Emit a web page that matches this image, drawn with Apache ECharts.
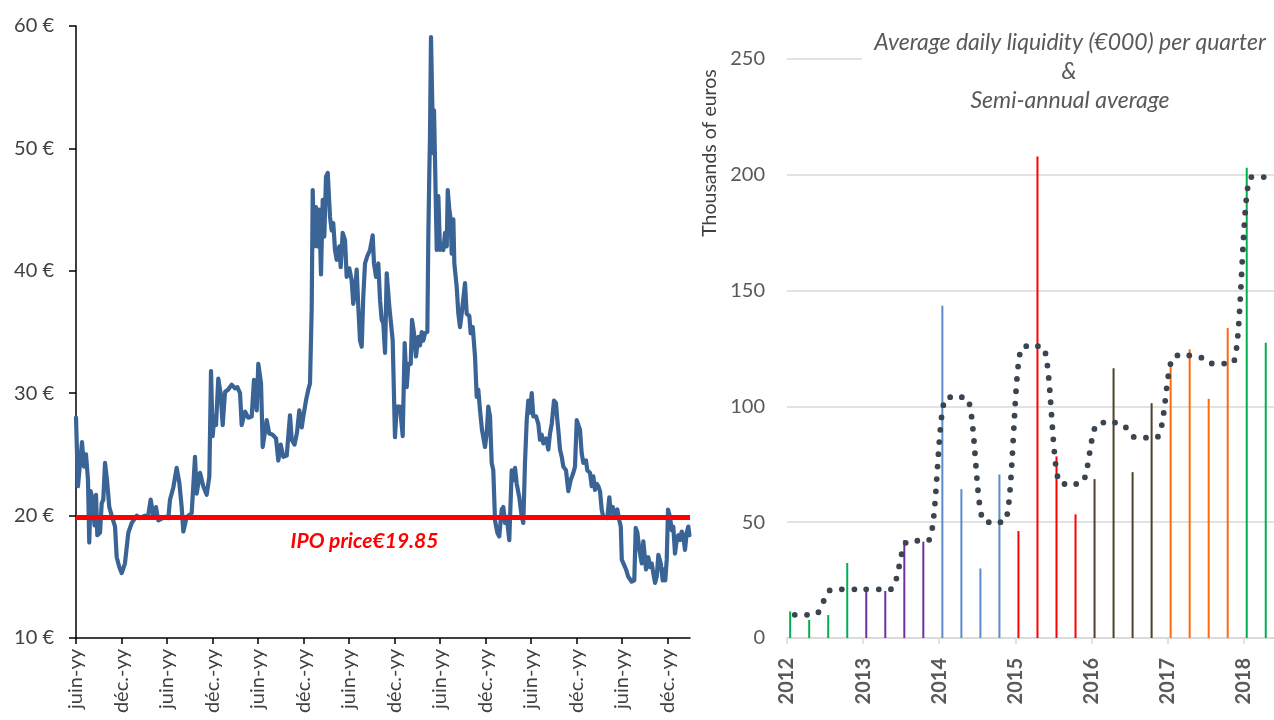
<!DOCTYPE html>
<html>
<head>
<meta charset="utf-8">
<script src="https://cdn.jsdelivr.net/npm/echarts@6/dist/echarts.min.js"></script>
<style>
html,body{margin:0;padding:0;background:#fff;}
#chart{width:1274px;height:720px;}
</style>
</head>
<body>
<div id="chart"></div>
<script>
// ---- Share price (left panel) ----
// time in months counted from the first June tick, price in euros
const priceMonth = [
  0, 0.26, 0.79, 1.06, 1.32, 1.58, 1.75, 1.94, 2.20, 2.44, 2.64, 2.81, 3.17, 3.39, 3.60, 3.83, 4.09, 4.39, 4.71, 5.15,
  5.37, 5.71, 6.03, 6.46, 6.90, 7.35, 8.01, 8.44, 9.10, 9.50, 9.85, 10.20, 10.55, 10.86, 11.74, 12.18, 12.40, 12.84, 13.28, 13.63,
  13.94, 14.16, 14.60, 15.26, 15.70, 15.92, 16.36, 16.79, 17.24, 17.59, 17.81, 18.03, 18.25, 18.47, 18.77, 19.09, 19.35, 19.66, 20.09, 20.54,
  20.98, 21.28, 21.64, 21.86, 22.30, 22.73, 23.18, 23.48, 23.84, 24.05, 24.41, 24.63, 25.16, 25.50, 25.95, 26.39, 26.69, 27.01, 27.35, 27.80,
  28.23, 28.46, 28.83, 29.16, 29.46, 29.78, 29.99, 30.34, 30.65, 30.87, 31.09, 31.23, 31.40, 31.66, 31.83, 32.10, 32.32, 32.55, 32.76, 32.98,
  33.21, 33.51, 33.73, 33.94, 34.17, 34.39, 34.74, 34.92, 35.18, 35.49, 35.71, 36.06, 36.37, 36.58, 36.81, 37.03, 37.24, 37.47, 37.69, 37.90,
  38.13, 38.43, 38.79, 39.14, 39.31, 39.58, 39.88, 40.11, 40.33, 40.54, 40.77, 40.99, 41.33, 41.78, 42.08, 42.31, 42.74, 43.10, 43.36, 43.63,
  43.84, 44.16, 44.33, 44.59, 44.85, 45.16, 45.38, 45.61, 45.82, 46.04, 46.35, 46.48, 46.61, 46.70, 46.83, 47.01, 47.14, 47.23, 47.36, 47.49,
  47.59, 47.80, 48.02, 48.25, 48.46, 48.68, 48.91, 49.04, 49.25, 49.43, 49.56, 49.78, 49.91, 50.22, 50.44, 50.66, 50.88, 51.10, 51.32, 51.54,
  51.89, 52.07, 52.34, 52.64, 52.86, 53.07, 53.30, 53.56, 53.96, 54.18, 54.39, 54.62, 54.84, 55.05, 55.28, 55.58, 55.84, 56.16, 56.37, 56.60,
  56.82, 57.16, 57.48, 57.70, 57.92, 58.14, 58.48, 58.80, 59.01, 59.23, 59.46, 59.67, 59.89, 60.12, 60.33, 60.69, 60.99, 61.21, 61.44, 61.65,
  62.01, 62.31, 62.53, 62.76, 63.06, 63.32, 63.50, 63.63, 63.85, 64.08, 64.29, 64.64, 64.95, 65.26, 65.61, 65.83, 66.06, 66.27, 66.49, 66.71,
  66.93, 67.28, 67.45, 67.81, 68.03, 68.25, 68.47, 68.69, 68.91, 69.13, 69.35, 69.56, 69.79, 70.09, 70.36, 70.54, 70.81, 71.11, 71.41, 71.68,
  71.87, 72.00, 72.22, 72.56, 72.86, 73.31, 73.65, 73.84, 74.06, 74.32, 74.63, 74.84, 75.07, 75.20, 75.50, 75.73, 75.95, 76.16, 76.39, 76.61,
  76.83, 77.14, 77.40, 77.57, 77.74, 77.93, 78.10, 78.36, 78.59, 78.80, 79.02, 79.25, 79.46, 79.68, 79.91, 80.12, 80.34, 80.57, 80.78, 80.92
];
const priceValue = [
  28.0, 22.4, 26.0, 24.0, 25.0, 22.9, 17.8, 22.0, 21.3, 19.2, 21.7, 18.4, 18.6, 21.0, 21.3, 24.3, 22.9, 20.7, 20.0, 19.1,
  16.6, 15.8, 15.3, 16.1, 18.6, 19.4, 20.0, 19.8, 20.0, 19.9, 21.3, 20.0, 20.7, 19.6, 19.9, 19.8, 21.3, 22.3, 23.9, 22.7,
  20.7, 18.7, 19.9, 20.2, 24.8, 21.8, 23.5, 22.4, 21.7, 23.2, 31.8, 26.5, 28.1, 27.4, 31.2, 29.9, 27.4, 30.1, 30.3, 30.7,
  30.4, 30.5, 30.0, 27.4, 28.5, 28.0, 28.1, 31.1, 28.6, 32.4, 30.8, 25.6, 27.8, 26.7, 26.6, 26.3, 24.5, 25.8, 24.8, 24.9,
  28.2, 26.2, 25.8, 26.8, 28.6, 27.2, 28.1, 29.4, 30.3, 30.8, 36.8, 46.6, 42.0, 45.2, 42.0, 45.0, 39.7, 45.8, 42.8, 47.7,
  48.0, 44.4, 43.3, 43.9, 41.7, 40.9, 42.0, 40.3, 43.1, 42.5, 39.5, 40.2, 39.2, 37.3, 38.4, 40.1, 37.1, 34.3, 33.8, 37.9,
  40.6, 41.2, 41.7, 42.9, 40.6, 39.5, 40.6, 37.6, 36.0, 35.7, 33.3, 39.8, 37.1, 34.3, 26.4, 28.9, 28.9, 26.5, 34.1, 30.5,
  32.4, 32.4, 36.0, 34.9, 33.0, 34.6, 33.9, 35.0, 34.3, 34.9, 35.0, 42.8, 48.0, 51.0, 59.1, 53.4, 49.6, 53.1, 49.1, 44.7,
  41.7, 46.1, 41.7, 42.2, 41.7, 43.1, 42.0, 46.6, 45.0, 44.2, 41.4, 44.2, 40.6, 38.7, 36.5, 35.4, 36.5, 36.5, 39.0, 36.5,
  36.3, 34.9, 35.4, 33.0, 29.7, 30.3, 28.6, 27.0, 25.6, 26.7, 28.9, 28.1, 24.3, 23.7, 19.6, 18.6, 18.3, 20.5, 20.7, 19.4,
  19.9, 18.0, 23.7, 22.9, 23.9, 22.6, 21.5, 19.9, 19.4, 24.3, 27.8, 29.4, 28.4, 30.0, 28.1, 28.1, 27.5, 26.2, 26.6, 25.9,
  26.3, 25.4, 26.7, 27.5, 29.4, 29.2, 27.8, 27.0, 25.4, 24.8, 24.0, 23.7, 22.0, 22.9, 23.5, 24.0, 27.8, 27.7, 27.0, 25.1,
  24.3, 24.5, 23.7, 23.5, 22.4, 23.2, 22.1, 22.6, 22.4, 22.0, 20.5, 19.9, 19.9, 19.8, 21.5, 20.2, 20.7, 19.9, 20.5, 19.6,
  19.1, 16.4, 16.1, 15.6, 15.0, 14.6, 14.7, 19.0, 18.6, 17.2, 16.1, 17.9, 18.0, 15.6, 16.6, 15.8, 16.1, 15.3, 14.5, 15.0,
  16.8, 16.1, 14.7, 15.6, 14.7, 16.4, 20.5, 19.9, 18.8, 19.1, 16.9, 18.0, 18.4, 18.0, 18.7, 18.3, 17.2, 18.6, 19.1, 18.4
];
const ipoPrice = 19.85;
const priceTickLabels = [
  'juin-yy', 'déc.-yy', 'juin-yy', 'déc.-yy', 'juin-yy', 'déc.-yy', 'juin-yy',
  'déc.-yy', 'juin-yy', 'déc.-yy', 'juin-yy', 'déc.-yy', 'juin-yy', 'déc.-yy'
];
const monthsShown = 81;      // span of the time axis, in months
const monthsPerTick = 6;

// ---- Liquidity (right panel) ----
const years = [2012, 2013, 2014, 2015, 2016, 2017, 2018];
const quarters = [
  'T1 2012', 'T2 2012', 'T3 2012', 'T4 2012', 'T1 2013', 'T2 2013', 'T3 2013', 'T4 2013',
  'T1 2014', 'T2 2014', 'T3 2014', 'T4 2014', 'T1 2015', 'T2 2015', 'T3 2015', 'T4 2015',
  'T1 2016', 'T2 2016', 'T3 2016', 'T4 2016', 'T1 2017', 'T2 2017', 'T3 2017', 'T4 2017',
  'T1 2018', 'T2 2018'
];
// average daily liquidity per quarter, thousands of euros
const liquidity = [
  11.5, 7.8, 9.9, 32.4, 21.5, 20.3, 42.3, 41.6,
  143.5, 64.3, 30.0, 70.6, 46.2, 207.9, 78.4, 53.4,
  68.6, 116.5, 71.6, 101.4, 119.4, 124.7, 103.3, 133.8,
  203.0, 127.5
];
// semi-annual average, one value per half-year
const semiAnnual = [10, 21, 21, 42, 104, 50, 126, 66.5, 93, 86.5, 122, 118.5, 199];
const yearColors = {
  2012: '#00b050', 2013: '#7030a0', 2014: '#5a8bcb', 2015: '#ff0000',
  2016: '#4d4128', 2017: '#ff6a0d', 2018: '#00b050'
};

// position of each quarter on the year axis: middle of the quarter's first month
function quarterPos(label) {
  const q = +label.slice(1, 2);
  const y = +label.slice(3);
  return y + (3 * (q - 1) + 0.5) / 12;
}
// the average curve is plotted a few days after the bars
const AVG_SHIFT = 0.06;

const monthCategories = [];
for (let i = 0; i <= monthsShown; i++) {
  monthCategories.push(i % monthsPerTick === 0 ? (priceTickLabels[i / monthsPerTick] || '') : '');
}

const priceData = priceMonth.map((m, i) => [m, priceValue[i]]);
const barData = quarters.map((q, i) => {
  const y = +q.slice(3);
  return { value: [quarterPos(q), liquidity[i]], itemStyle: { color: yearColors[y] } };
});
const avgData = quarters.map((q, i) => [quarterPos(q) + AVG_SHIFT, semiAnnual[Math.floor(i / 2)]]);

const FONT = 'Lato, "Open Sans", sans-serif';

const chart = echarts.init(document.getElementById('chart'), null, { renderer: 'canvas' });
chart.setOption({
  backgroundColor: '#ffffff',
  animation: false,
  textStyle: { fontFamily: FONT },
  grid: [
    { left: 76, top: 26, width: 614, bottom: 82, containLabel: false },
    { left: 787, top: 59, right: 0, bottom: 82, containLabel: false }
  ],
  xAxis: [
    {
      type: 'category', gridIndex: 0, data: monthCategories, boundaryGap: false,
      axisLine: { lineStyle: { color: '#000', width: 1.5 } },
      axisTick: { show: true, interval: monthsPerTick - 1, length: 6, lineStyle: { color: '#000', width: 1.5 } },
      axisLabel: {
        interval: monthsPerTick - 1, rotate: 90, margin: 11, fontSize: 20,
        color: '#404040', fontFamily: FONT
      },
      splitLine: { show: false }
    },
    {
      type: 'value', gridIndex: 0, min: 0, max: monthsShown, show: false
    },
    {
      type: 'value', gridIndex: 1, min: years[0], max: 2018.4, interval: 1,
      axisLine: { lineStyle: { color: '#d9d9d9', width: 1.5 } },
      axisTick: { show: true, length: 6, lineStyle: { color: '#d9d9d9', width: 1.5 } },
      axisLabel: {
        rotate: 90, margin: 20, fontSize: 20, fontWeight: 'bold', color: '#595959',
        fontFamily: FONT, showMaxLabel: false,
        formatter: v => (Number.isInteger(v) && years.includes(v)) ? String(v) : ''
      },
      splitLine: { show: false }
    }
  ],
  yAxis: [
    {
      type: 'value', gridIndex: 0, min: 10, max: 60, interval: 10,
      axisLine: { show: true, lineStyle: { color: '#000', width: 1.5 } },
      axisTick: { show: true, length: 7, lineStyle: { color: '#000', width: 1.5 } },
      axisLabel: { formatter: '{value} €', fontSize: 20, color: '#404040', margin: 22, fontFamily: FONT },
      splitLine: { show: false }
    },
    {
      type: 'value', gridIndex: 1, min: 0, max: 250, interval: 50,
      axisLine: { show: false }, axisTick: { show: false },
      axisLabel: { fontSize: 20, color: '#595959', margin: 22, fontFamily: FONT },
      splitLine: { show: true, lineStyle: { color: '#d9d9d9', width: 1.5 } }
    }
  ],
  series: [
    {
      name: 'Price', type: 'line', xAxisIndex: 1, yAxisIndex: 0,
      data: priceData, symbol: 'none', z: 2,
      lineStyle: { color: '#3b6496', width: 4.2, join: 'round', cap: 'round' },
      markLine: {
        silent: true, symbol: 'none', z: 5,
        lineStyle: { color: '#ff0000', width: 5, type: 'solid' },
        label: {
          show: true, position: 'insideMiddleBottom', distance: 13,
          formatter: p => 'IPO price€' + p.value.toFixed(2),
          color: '#ff0000', fontSize: 21, fontWeight: 'bold', fontStyle: 'italic',
          fontFamily: FONT, padding: [0, 37, 0, 0]
        },
        emphasis: { disabled: true },
        data: [{ yAxis: ipoPrice }]
      }
    },
    {
      name: 'Liquidity', type: 'bar', xAxisIndex: 2, yAxisIndex: 1,
      data: barData, barWidth: 2, z: 2
    },
    {
      name: 'Semi-annual average', type: 'line', xAxisIndex: 2, yAxisIndex: 1,
      data: avgData, symbol: 'none', smooth: 0.5, smoothMonotone: 'x', z: 3,
      lineStyle: { color: '#3a4550', width: 5.8, type: [0, 12.3], cap: 'round' }
    }
  ],
  graphic: [
    {
      type: 'rect', z: 100, shape: { x: 862, y: 50, width: 412, height: 18 },
      style: { fill: '#ffffff' }
    },
    {
      type: 'text', z: 101, x: 1070, y: 43,
      style: { text: 'Average daily liquidity (€000) per quarter', font: 'italic 23px ' + FONT, fill: '#595959', textAlign: 'center', textVerticalAlign: 'middle' }
    },
    {
      type: 'text', z: 101, x: 1069, y: 72,
      style: { text: '&', font: 'italic 23px ' + FONT, fill: '#595959', textAlign: 'center', textVerticalAlign: 'middle' }
    },
    {
      type: 'text', z: 101, x: 1070, y: 101,
      style: { text: 'Semi-annual average', font: 'italic 23px ' + FONT, fill: '#595959', textAlign: 'center', textVerticalAlign: 'middle' }
    },
    {
      type: 'text', z: 101, x: 710, y: 153, rotation: Math.PI / 2,
      style: { text: 'Thousands of euros', font: '19.5px ' + FONT, fill: '#404040', textAlign: 'center', textVerticalAlign: 'middle' }
    }
  ]
});
</script>
</body>
</html>
